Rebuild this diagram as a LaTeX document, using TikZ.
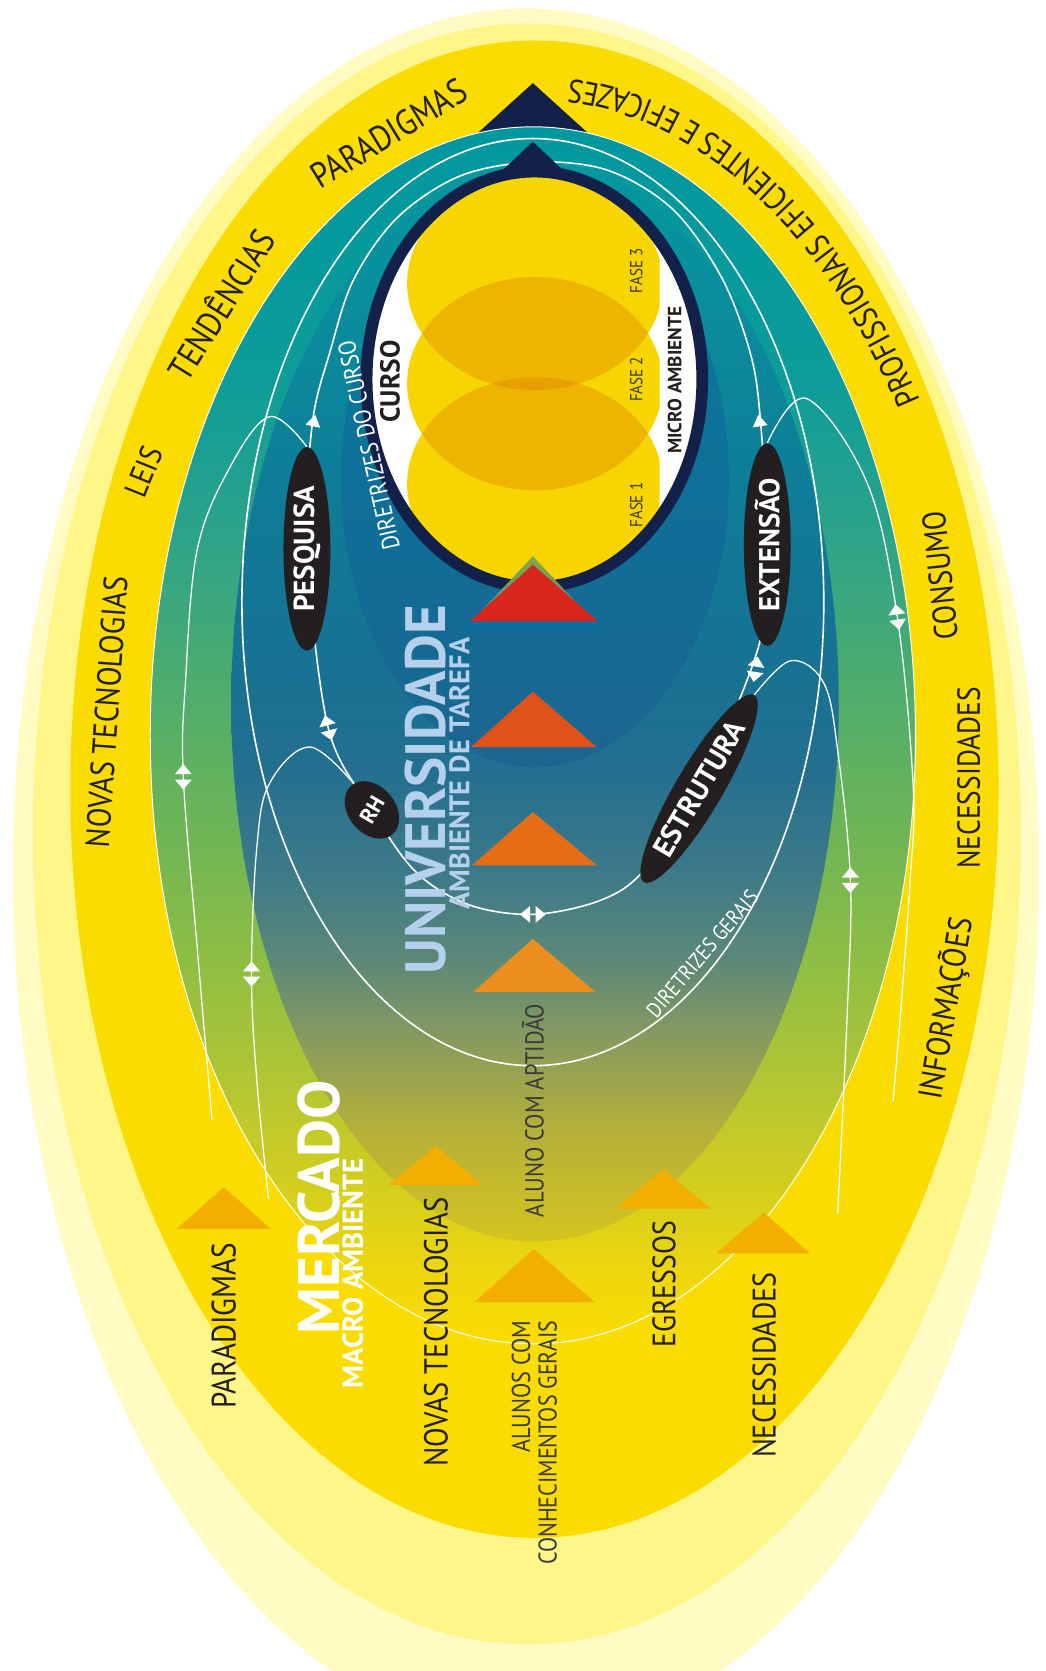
\documentclass[tikz,border=0pt]{standalone}
\usepackage{fontspec}
\setmainfont{PT Sans}
\newfontfamily\nar[FakeStretch=0.86]{PT Sans}
\usepackage{graphicx}
\usetikzlibrary{shapes.geometric,decorations.text,calc}
\pgfdeclarelayer{bg}
\pgfdeclarelayer{lines}
\pgfsetlayers{bg,lines,main}

\definecolor{paleA}{HTML}{FFFBC2}
\definecolor{paleB}{HTML}{FFF68A}
\definecolor{yel}{HTML}{FADC00}
\definecolor{navy}{HTML}{13204A}
\definecolor{nblk}{HTML}{231F20}
\definecolor{ink}{HTML}{231F20}
\definecolor{gry}{HTML}{3A3A3A}
\definecolor{ublue}{HTML}{B5D0EC}
\definecolor{cy}{HTML}{F6D500}
\definecolor{cyd}{HTML}{EEB500}
\definecolor{cydd}{HTML}{E6A000}
\definecolor{tred}{HTML}{D9261C}
\definecolor{tor1}{HTML}{E05219}
\definecolor{tor2}{HTML}{E46D16}
\definecolor{tor3}{HTML}{EB8E1E}
\definecolor{tyo}{HTML}{F2AF00}

\definecolor{g0}{HTML}{FADC00}
\definecolor{g1}{HTML}{EFD70C}
\definecolor{g2}{HTML}{CFCD22}
\definecolor{g3}{HTML}{ADC536}
\definecolor{g4}{HTML}{8EBE44}
\definecolor{g5}{HTML}{6EB556}
\definecolor{g6}{HTML}{4FAD6C}
\definecolor{g7}{HTML}{2CA38A}
\definecolor{g8}{HTML}{0C9C9A}
\definecolor{g9}{HTML}{00979F}

\definecolor{u0}{HTML}{D4C41E}
\definecolor{u1}{HTML}{B4B03A}
\definecolor{u2}{HTML}{8A9C5C}
\definecolor{u3}{HTML}{5C8878}
\definecolor{u4}{HTML}{3D7A88}
\definecolor{u5}{HTML}{236F90}
\definecolor{u6}{HTML}{157394}
\definecolor{u7}{HTML}{0E7D98}
\definecolor{u8}{HTML}{0A8C9C}
\definecolor{u9}{HTML}{05969F}

\definecolor{b0}{HTML}{1D6590}
\definecolor{b1}{HTML}{0F6E97}
\definecolor{b2}{HTML}{0A7A9C}

\definecolor{h0}{HTML}{0A6FA0}
\definecolor{h1}{HTML}{5E9070}
\definecolor{h2}{HTML}{86A64C}

\pgfdeclareverticalshading{mkt}{100bp}{color(0bp)=(g0); color(25bp)=(g0); color(27.7bp)=(g1); color(32.1bp)=(g2); color(36.4bp)=(g3); color(40.8bp)=(g4); color(46.1bp)=(g5); color(51.8bp)=(g6); color(58.4bp)=(g7); color(64.9bp)=(g8); color(75bp)=(g9); color(100bp)=(g9)}
\pgfdeclareverticalshading{uni}{100bp}{color(0bp)=(u0); color(25bp)=(u0); color(30.2bp)=(u1); color(34.2bp)=(u2); color(38.1bp)=(u3); color(42.1bp)=(u4); color(47bp)=(u5); color(53bp)=(u6); color(60.4bp)=(u7); color(67.8bp)=(u8); color(75bp)=(u9); color(100bp)=(u9)}
\pgfdeclareverticalshading{blobsh}{100bp}{color(0bp)=(b0); color(25bp)=(b0); color(45bp)=(b1); color(75bp)=(b2); color(100bp)=(b2)}
\pgfdeclareverticalshading{halo}{100bp}{color(0bp)=(h0); color(25bp)=(h0); color(34bp)=(h0); color(40bp)=(h1); color(75bp)=(h2); color(100bp)=(h2)}

\newcommand\fitw[2]{\resizebox{#1pt}{!}{#2}}

\tikzset{
  wl/.style={white, line width=1.5pt},
  wlt/.style={white, line width=1.2pt},
  blk/.style={ellipse, fill=nblk, inner sep=0pt, text=white, font=\bfseries},
  lab/.style={inner sep=0pt, text=ink, font=\nar},
  gt/.style={inner sep=0pt, text=gry, font=\nar},
  bl/.style={inner sep=0pt, text=ink, font=\bfseries},
  wt/.style={inner sep=0pt, text=white, font=\nar},
  ub/.style={inner sep=0pt, text=ublue, font=\bfseries},
  wb/.style={inner sep=0pt, text=white, font=\bfseries},
  dbl/.pic={\fill[white] (0,-2.5)--(-8,-2.5)--(0,-12)--(8,-2.5)--cycle;
            \fill[white] (0,2.5)--(-8,2.5)--(0,12)--(8,2.5)--cycle;},
  sgl/.pic={\fill[white] (0,-9)--(-7,2)--(7,2)--cycle;}
}

\begin{document}
\begin{tikzpicture}[x=1pt,y=-1pt]
\useasboundingbox (0,0) rectangle (981,1568);

\begin{pgfonlayer}{bg}
  \fill[white] (0,0) rectangle (981,1568);
  \fill[paleA] (493.5,818) ellipse (481.5 and 810);
  \fill[paleB] (494.5,782.5) ellipse (463.5 and 760.5);
  \fill[yel] (501.5,740.5) ellipse (435.5 and 702.5);
  % big navy triangle
  \fill[navy] (500,78) -- (436,136) -- (564,136) -- cycle;
  % market region
  \shade[shading=mkt] (500,690) ellipse (359 and 571);
  % university region
  \shade[shading=uni] (502,660) ellipse (285 and 505);
  % micro blob
  \shade[shading=blobsh] (502,450) ellipse (182 and 270);
\end{pgfonlayer}

% ---------- CURSO ----------
\fill[navy] (500,133) -- (466,165) -- (534,165) -- cycle;
\fill[white] (501.5,356) ellipse (157.5 and 195);
\begin{scope}
  \clip (501.5,356) ellipse (157.5 and 195);
  \clip (0,0) rectangle (619,1568);
  \fill[cy] (502,266) ellipse (120 and 100);
  \fill[cy] (502,360) ellipse (120 and 100);
  \fill[cy] (502,454) ellipse (120 and 100);
  \begin{scope}
    \clip (502,266) ellipse (120 and 100);
    \fill[cyd] (502,360) ellipse (120 and 100);
  \end{scope}
  \begin{scope}
    \clip (502,360) ellipse (120 and 100);
    \fill[cyd] (502,454) ellipse (120 and 100);
  \end{scope}
  \begin{scope}
    \clip (502,266) ellipse (120 and 100);
    \fill[cydd] (502,454) ellipse (120 and 100);
  \end{scope}
\end{scope}
\draw[navy, line width=11pt] (501.5,356) ellipse (157.5 and 195);

% ---------- triangles ----------
\shade[shading=halo] (500,522) -- (434,592) -- (566,592) -- cycle;
\fill[tred] (500,530) -- (441,583) -- (561,583) -- cycle;
\fill[tor1] (500,649) -- (442,701) -- (560,701) -- cycle;
\fill[tor2] (500,762) -- (443,812) -- (560,812) -- cycle;
\fill[tor3] (500,881) -- (444,931) -- (559,931) -- cycle;
\fill[tyo] (501,1172) -- (445,1222) -- (558,1222) -- cycle;
\fill[tyo] (409,1075) -- (365,1112) -- (453,1112) -- cycle;
\fill[tyo] (210,1114) -- (166,1153) -- (254,1153) -- cycle;
\fill[tyo] (622,1097) -- (578,1134) -- (667,1134) -- cycle;
\fill[tyo] (717,1138) -- (672,1176) -- (760,1176) -- cycle;

% ---------- black nodes ----------
\node[blk, rotate=90, minimum width=191pt, minimum height=44pt] (pes) at (288,515) {\fitw{118}{PESQUISA}};
\node[blk, rotate=90, minimum width=190pt, minimum height=44pt] (ext) at (720,511) {\fitw{125}{EXTENSÃO}};
\node[blk, rotate=59.5, minimum width=190pt, minimum height=44pt] (est) at (656,740) {\fitw{144}{ESTRUTURA}};
\node[blk, rotate=-50, minimum width=60pt, minimum height=44pt] (rh) at (349,760) {\rotatebox{110}{\fitw{26}{RH}}};

\coordinate (rhT) at ($(rh)+(-14,-21)$);
\coordinate (pEnd) at (199,1051);
\coordinate (rEnd) at (252,1125);
\coordinate (eEnd) at (838,1033);
\coordinate (sEnd) at (786,1139);

% ---------- white lines ----------
\begin{pgfonlayer}{lines}
  \draw[white, line width=0.9pt] (500,690) ellipse (359 and 571);
  \draw[wl] (500,565) ellipse (273 and 435);
  \draw[wl] plot[smooth cycle, tension=0.55] coordinates {(502,152) (571,160) (632,197) (678,262) (705,335) (714,400) (ext) (712,606) (est) (604,817) (563,845) (500,858) (440,849) (390,818) (rh) (308,683) (pes) (293,398) (310,329) (332,262) (373,204) (432,165)};
  \draw[wlt] plot[smooth, tension=0.6] coordinates {(pes.east) (253,391) (216,438) (185,516) (174,641) (172,729) (185,889) (pEnd)};
  \draw[wlt] plot[smooth, tension=0.6] coordinates {(rhT) (291,701) (253,735) (241,795) (236,914) (241,1014) (rEnd)};
  \draw[wlt] plot[smooth, tension=0.6] coordinates {(ext.east) (757,374) (814,454) (842,579) (857,740) (854,826) (845,951) (eEnd)};
  \draw[wlt] plot[smooth, tension=0.6] coordinates {(est.east) (742,620) (773,641) (786,704) (798,826) (795,951) (sEnd)};
\end{pgfonlayer}

% ---------- arrow marks ----------
\pic at (172,729) {dbl};
\pic at (236,914) {dbl};
\pic[rotate=8] at (842,579) {dbl};
\pic at (798,826) {dbl};
\pic[rotate=15] at (308,683) {dbl};
\pic[rotate=-9] at (709,628) {dbl};
\pic[rotate=90] at (500,858) {dbl};
\pic[rotate=-12] at (294,398) {sgl};
\pic[rotate=9] at (713,398) {sgl};

% ---------- texts inside ----------
\node[bl, rotate=90] (tCU) at (366,358) {\fitw{77}{CURSO}};
\node[bl, rotate=90] (tMA) at (633,357) {\fitw{138}{MICRO AMBIENTE}};
\node[gt, rotate=90] (tF3) at (597,254) {\fitw{42}{FASE 3}};
\node[gt, rotate=90] (tF2) at (597,356) {\fitw{42}{FASE 2}};
\node[gt, rotate=90] (tF1) at (597,474) {\fitw{42}{FASE 1}};
\node[wt, rotate=102.5] (tDC) at (346,418) {\fitw{200}{DIRETRIZES DO CURSO}};
\node[wt, rotate=49.4] (tDG) at (659,895) {\fitw{149}{DIRETRIZES GERAIS}};
\node[ub, rotate=90] (tUN) at (399,741) {\fitw{347}{UNIVERSIDADE}};
\node[ub, rotate=90] (tAT) at (431,726) {\fitw{255}{AMBIENTE DE TAREFA}};
\node[wb, rotate=90] (tME) at (299,1133) {\fitw{238}{MERCADO}};
\node[wb, rotate=90] (tMC) at (331,1195) {\fitw{215}{MACRO AMBIENTE}};
\node[gt, rotate=90] (tAL) at (500,1042) {\fitw{200}{ALUNO COM APTIDÃO}};

% ---------- bottom labels ----------
\node[lab, rotate=90] (tPB) at (210,1244) {\fitw{156}{PARADIGMAS}};
\node[lab, rotate=90] (tNTB) at (409,1250) {\fitw{253}{NOVAS TECNOLOGIAS}};
\node[gt, rotate=90, anchor=east] (tA1) at (489,1239) {\fitw{124}{ALUNOS COM}};
\node[gt, rotate=90, anchor=east] (tA2) at (514,1239) {\fitw{229}{CONHECIMENTOS GERAIS}};
\node[lab, rotate=90] (tEG) at (623,1205) {\fitw{119}{EGRESSOS}};
\node[lab, rotate=90] (tNB) at (717,1281) {\fitw{174}{NECESSIDADES}};

% ---------- outer ring labels ----------
\node[lab, rotate=86] (tNT) at (100,668) {\fitw{255}{NOVAS TECNOLOGIAS}};
\node[lab, rotate=68] (tLE) at (135,443) {\fitw{48}{LEIS}};
\node[lab, rotate=58] (tTE) at (206,285) {\fitw{158}{TENDÊNCIAS}};
\node[lab, rotate=31.5] (tPA) at (365,125) {\fitw{164}{PARADIGMAS}};
\node[lab, rotate=96] (tCO) at (882,540) {\fitw{121}{CONSUMO}};
\node[lab, rotate=90] (tNE) at (909,730) {\fitw{170}{NECESSIDADES}};
\node[lab, rotate=80] (tIN) at (888,946) {\fitw{172}{INFORMAÇÕES}};
\path[decorate, decoration={text along path, text align=fit to path,
  text={|\nar\fontsize{31}{31}\selectfont\color{ink}|PROFISSIONAIS EFICIENTES E EFICAZES}}]
  plot[domain=33:85.5, samples=60, variable=\t] ({501+432*cos(\t)}, {739-667*sin(\t)});
\end{tikzpicture}
\end{document}
